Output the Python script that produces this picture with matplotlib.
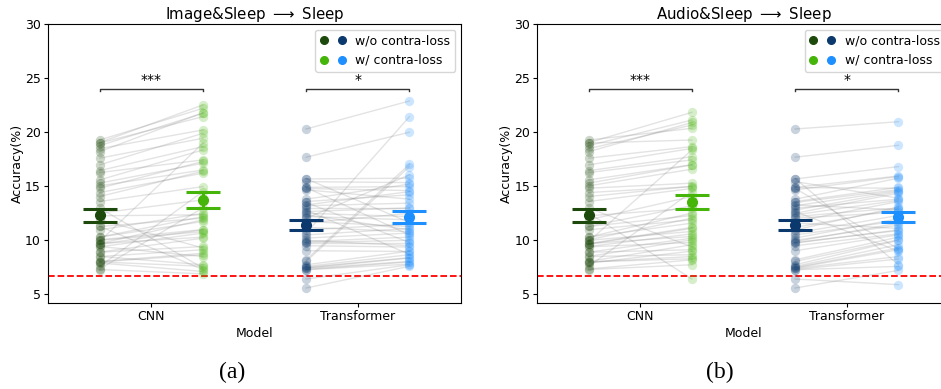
import matplotlib

matplotlib.use('Agg')
import matplotlib.pyplot as plt
from matplotlib.legend_handler import HandlerTuple
import numpy as np

# accuracies per subject (%), w/o contra-loss is the same baseline in both panels
cnn_wo = [19.28, 19.04, 19.0, 18.76, 18.48, 18.2, 17.6, 16.98, 16.45, 9.9, 16.27, 15.59, 15.29,
          15.04, 14.82, 14.42, 14.05, 13.59, 12.98, 12.52, 7.6, 12.27, 11.9, 11.3, 11.28, 10.97,
          10.3, 10.3, 10.05, 10.0, 9.7, 9.7, 9.65, 9.43, 9.4, 8.91, 8.9, 8.51, 8.5, 8.05, 8.0, 8.0,
          7.9, 7.35, 7.3]
trans_wo = [20.3, 17.69, 15.7, 15.68, 15.43, 14.9, 14.88, 14.8, 14.67, 13.81, 13.59, 13.5, 13.28,
            13.2, 12.98, 12.8, 12.66, 12.5, 12.36, 12.2, 12.05, 11.74, 11.6, 11.2, 10.97, 10.67,
            10.5, 10.21, 10.0, 9.89, 9.8, 9.75, 9.5, 9.04, 8.2, 8.05, 7.74, 7.59, 7.5, 7.44, 7.4,
            7.3, 7.28, 6.42, 5.59]

cnn_w_image = [22.21, 22.52, 21.44, 21.75, 20.21, 21.8, 19.44, 19.9, 18.67, 18.98, 17.44, 18.36,
               17.13, 16.51, 17.3, 16.21, 16.4, 14.97, 7.44, 13.74, 14.51, 12.36, 9.3, 7.3, 12.05,
               12.5, 11.74, 12.2, 11.0, 10.8, 11.9, 10.3, 10.97, 8.5, 10.67, 10.2, 9.43, 7.74, 9.13,
               8.8, 8.67, 7.6, 7.12, 13.0, 6.9]
trans_w_image = [22.89, 20.0, 11.65, 15.75, 15.34, 14.97, 10.5, 14.6, 13.81, 15.2, 14.21, 9.8, 14.5,
                 13.44, 12.98, 8.7, 13.0, 12.2, 10.97, 11.9, 16.05, 11.28, 12.5, 10.8, 11.5, 21.44,
                 11.1, 10.67, 9.5, 10.3, 10.0, 9.75, 9.38, 8.97, 17.04, 16.82, 9.0, 8.67, 8.4, 8.36,
                 8.05, 8.0, 7.8, 7.74, 7.6]

cnn_w_audio = [20.36, 21.84, 19.28, 21.13, 20.67, 20.9, 18.67, 18.5, 17.74, 18.36, 17.44, 17.0,
               16.98, 16.58, 15.29, 14.97, 15.0, 14.8, 9.4, 6.42, 14.51, 12.98, 14.05, 13.2, 12.3,
               11.9, 12.52, 11.59, 12.05, 10.82, 11.2, 10.36, 11.1, 10.6, 9.8, 10.2, 9.13, 10.05,
               8.67, 9.59, 8.3, 8.5, 9.0, 8.2, 7.74]
trans_w_audio = [20.97, 18.79, 7.74, 16.82, 13.9, 15.96, 14.82, 9.2, 15.9, 15.75, 14.9, 14.7, 12.82,
                 14.6, 13.81, 14.5, 9.0, 14.36, 13.7, 13.0, 12.6, 13.59, 11.1, 12.9, 13.07, 12.3,
                 11.8, 12.0, 11.4, 11.59, 10.9, 10.97, 10.6, 10.51, 10.3, 10.05, 10.0, 9.6, 9.28,
                 9.13, 8.5, 8.27, 7.59, 5.9, 7.22]

models = ['CNN', 'Transformer']
titles = [r'Image&Sleep $\longrightarrow$ Sleep', r'Audio&Sleep $\longrightarrow$ Sleep']
stars = ['***', '*']
chance = 100 / 15

colors_wo = ['#1d4a0c', '#0b396d']
colors_w = ['#46b50a', '#1e8fff']


def paired_panel(ax, wo_sets, w_sets, title):
    for i, (wo, w) in enumerate(zip(wo_sets, w_sets)):
        wo = np.array(wo)
        w = np.array(w)
        x0, x1 = i - 0.25, i + 0.25
        for a, b in zip(wo, w):
            ax.plot([x0, x1], [a, b], color='grey', alpha=0.22, lw=1, zorder=1)
        ax.scatter(np.full(len(wo), x0), wo, s=45, color=colors_wo[i], alpha=0.22, lw=0, zorder=2)
        ax.scatter(np.full(len(w), x1), w, s=45, color=colors_w[i], alpha=0.22, lw=0, zorder=2)
        for x, d, c in [(x0, wo, colors_wo[i]), (x1, w, colors_w[i])]:
            sem = d.std(ddof=1) / np.sqrt(len(d))
            ax.errorbar(x, d.mean(), yerr=sem, fmt='o', color=c, ms=7, capsize=12,
                        capthick=2.2, elinewidth=2.2, zorder=4)
        # significance bracket
        h = 24.0
        ax.plot([x0, x0, x1, x1], [h - 0.15, h, h, h - 0.15], color='#333333', lw=1, zorder=3)
        ax.text(i, h + 0.15, stars[i], ha='center', va='bottom', fontsize=10)

    ax.axhline(chance, color='red', ls='--', lw=1.3, zorder=0)
    ax.set_xlim(-0.5, 1.5)
    ax.set_ylim(4.2, 30)
    ax.set_yticks([5, 10, 15, 20, 25, 30])
    ax.set_xticks([0, 1])
    ax.set_xticklabels(models)
    ax.tick_params(labelsize=9, length=3, pad=2)
    ax.set_xlabel('Model', fontsize=9, labelpad=3)
    ax.set_ylabel('Accuracy(%)', fontsize=9, labelpad=1)
    ax.set_title(title, fontsize=10.8, pad=4)

    h_wo = (plt.Line2D([], [], marker='o', ls='', color=colors_wo[0], ms=5.5),
            plt.Line2D([], [], marker='o', ls='', color=colors_wo[1], ms=5.5))
    h_w = (plt.Line2D([], [], marker='o', ls='', color=colors_w[0], ms=5.5),
           plt.Line2D([], [], marker='o', ls='', color=colors_w[1], ms=5.5))
    ax.legend([h_wo, h_w], ['w/o contra-loss', 'w/ contra-loss'],
              handler_map={tuple: HandlerTuple(ndivide=None, pad=0.8)},
              loc='upper right', fontsize=9, handlelength=2.0, borderaxespad=0.45)


fig = plt.figure(figsize=(9.41, 3.89), dpi=100)
ax1 = fig.add_axes([0.051, 0.221, 0.439, 0.717])
ax2 = fig.add_axes([0.5707, 0.221, 0.439, 0.717])

paired_panel(ax1, [cnn_wo, trans_wo], [cnn_w_image, trans_w_image], titles[0])
paired_panel(ax2, [cnn_wo, trans_wo], [cnn_w_audio, trans_w_audio], titles[1])

fig.text(232 / 941, 1 - 372 / 389, '(a)', ha='center', va='center', fontsize=17,
         family='Liberation Serif')
fig.text(720 / 941, 1 - 372 / 389, '(b)', ha='center', va='center', fontsize=17,
         family='Liberation Serif')

fig.savefig('out.png', dpi=100)
